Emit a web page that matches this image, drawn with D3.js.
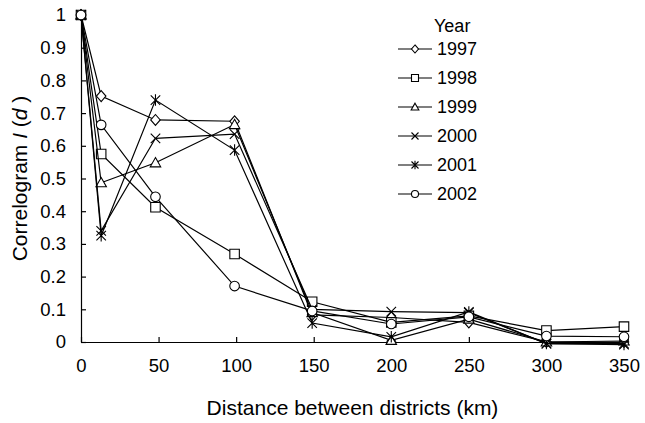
<!DOCTYPE html>
<html>
<head>
<meta charset="utf-8">
<script src="https://cdn.jsdelivr.net/npm/d3@7"></script>
<style>
  body { margin: 0; background: #fff; }
  text { font-family: Arial, "Liberation Sans", sans-serif; fill: #000; }
</style>
</head>
<body>
<div id="chart"></div>
<script>
var svgWidth = 645;
var svgHeight = 423;

// distances (km) at which the correlogram was computed
var distances = [0, 13, 48, 99, 149, 200, 250, 300, 350];
var years = ["1997", "1998", "1999", "2000", "2001", "2002"];
var markers = ["diamond", "square", "triangle", "cross", "star", "circle"];

var v1997 = [1, 0.752, 0.679, 0.675, 0.083, 0.075, 0.060, 0.000, 0.000];
var v1998 = [1, 0.575, 0.412, 0.269, 0.123, 0.060, 0.080, 0.035, 0.047];
var v1999 = [1, 0.487, 0.548, 0.665, 0.090, 0.005, 0.070, 0.000, 0.003];
var v2000 = [1, 0.340, 0.623, 0.636, 0.100, 0.093, 0.090, -0.005, -0.005];
var v2001 = [1, 0.325, 0.740, 0.587, 0.058, 0.016, 0.092, -0.005, -0.008];
var v2002 = [1, 0.664, 0.444, 0.171, 0.095, 0.055, 0.077, 0.018, 0.016];

var allValues = [v1997, v1998, v1999, v2000, v2001, v2002];

var xTicks = [0, 50, 100, 150, 200, 250, 300, 350];
var yTicks = [0, 0.1, 0.2, 0.3, 0.4, 0.5, 0.6, 0.7, 0.8, 0.9, 1];

var margin = { top: 15, right: 21, bottom: 81, left: 81 };
var width = svgWidth - margin.left - margin.right;
var height = svgHeight - margin.top - margin.bottom;

var svg = d3.select("#chart")
  .append("svg")
  .attr("width", svgWidth)
  .attr("height", svgHeight);

var chart = svg.append("g")
  .attr("transform", `translate(${margin.left}, ${margin.top})`);

var xScale = d3.scaleLinear().domain([0, 350]).range([0, width]);
var yScale = d3.scaleLinear().domain([0, 1]).range([height, 0]);

var bottomAxis = d3.axisBottom(xScale)
  .tickValues(xTicks)
  .tickSizeInner(-5)
  .tickSizeOuter(0)
  .tickPadding(17);

var leftAxis = d3.axisLeft(yScale)
  .tickValues(yTicks)
  .tickSizeInner(-5)
  .tickSizeOuter(0)
  .tickPadding(15)
  .tickFormat(d => (d === 0 || d === 1) ? String(d) : d.toFixed(1));

var gx = chart.append("g")
  .attr("transform", `translate(0, ${height})`)
  .call(bottomAxis);

var gy = chart.append("g")
  .call(leftAxis);

[gx, gy].forEach(function (g) {
  g.selectAll("path, line").attr("stroke", "#000").attr("stroke-width", 1.2);
  g.selectAll("text")
    .style("font-size", "18.5px")
    .style("font-family", "Arial, 'Liberation Sans', sans-serif");
});

// marker shapes
function markerPath(type, s) {
  var h = s / 2;
  if (type === "diamond") {
    return `M0,${-h * 1.15}L${h},0L0,${h * 1.15}L${-h},0Z`;
  } else if (type === "square") {
    return `M${-h},${-h}H${h}V${h}H${-h}Z`;
  } else if (type === "triangle") {
    return `M0,${-h * 1.1}L${h * 1.1},${h * 0.85}L${-h * 1.1},${h * 0.85}Z`;
  } else if (type === "cross") {
    return `M${-h},${-h}L${h},${h}M${-h},${h}L${h},${-h}`;
  } else if (type === "star") {
    return `M${-h},${-h}L${h},${h}M${-h},${h}L${h},${-h}M0,${-h * 1.2}V${h * 1.2}`;
  } else {
    return d3.symbol().type(d3.symbolCircle).size(s * s * 0.8)();
  }
}

var line = d3.line()
  .x((d, i) => xScale(distances[i]))
  .y(d => yScale(d));

var series = chart.selectAll(".series")
  .data(allValues)
  .enter()
  .append("g")
  .attr("class", "series");

series.append("path")
  .attr("d", d => line(d))
  .attr("fill", "none")
  .attr("stroke", "#000")
  .attr("stroke-width", 1.2);

series.each(function (vals, k) {
  d3.select(this).selectAll(".mk")
    .data(vals)
    .enter()
    .append("path")
    .attr("class", "mk")
    .attr("transform", (d, i) => `translate(${xScale(distances[i])}, ${yScale(d)})`)
    .attr("d", markerPath(markers[k], 9.5))
    .attr("fill", "#fff")
    .attr("stroke", "#000")
    .attr("stroke-width", 1.1);
});

// legend
var legend = svg.append("g")
  .attr("transform", "translate(398, 0)");

legend.append("text")
  .attr("x", 36)
  .attr("y", 32)
  .style("font-size", "18px")
  .text("Year");

var items = legend.selectAll(".item")
  .data(years)
  .enter()
  .append("g")
  .attr("class", "item")
  .attr("transform", (d, i) => `translate(0, ${49 + i * 29})`);

items.append("line")
  .attr("x1", 0)
  .attr("x2", 34)
  .attr("stroke", "#000")
  .attr("stroke-width", 1.2);

items.append("path")
  .attr("transform", "translate(17, 0)")
  .attr("d", (d, i) => markerPath(markers[i], 7))
  .attr("fill", "#fff")
  .attr("stroke", "#000")
  .attr("stroke-width", 1.1);

items.append("text")
  .attr("x", 39)
  .attr("dy", "0.36em")
  .style("font-size", "18px")
  .text(d => d);

// axis titles
var yTitle = svg.append("text")
  .attr("transform", `translate(27, ${margin.top + height / 2}) rotate(-90)`)
  .style("text-anchor", "middle")
  .style("font-size", "21px");
yTitle.append("tspan").text("Correlogram ");
yTitle.append("tspan").style("font-style", "italic").text("I");
yTitle.append("tspan").text(" (");
yTitle.append("tspan").style("font-style", "italic").text("d");
yTitle.append("tspan").text(" )");

svg.append("text")
  .attr("x", margin.left + width / 2)
  .attr("y", 415)
  .style("text-anchor", "middle")
  .style("font-size", "21px")
  .text("Distance between districts (km)");
</script>
</body>
</html>
